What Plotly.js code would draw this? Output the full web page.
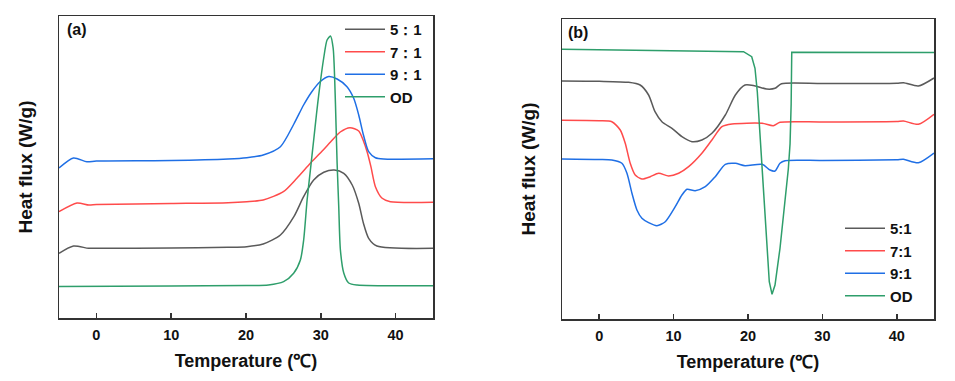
<!DOCTYPE html>
<html><head><meta charset="utf-8">
<script src="https://cdn.plot.ly/plotly-3.0.1.min.js"></script>
<style>html,body{margin:0;padding:0;background:#fff}#chart{width:955px;height:381px}</style>
</head><body><div id="chart"></div>
<script>
// Panel (a) – heating curves
const tempA51 = [-5,-3.06,-1.06,0,10,17.6,20.1,22.3,24.6,26.4,27.7,29.05,30.4,31.8,33.07,34.2,35.07,35.7,36.4,37.5,45];
const fluxA51 = [64.7,72,69.7,69.7,70,70.7,71.3,74,83,101.3,121.3,138,145.7,148,144.7,133,114.7,94.7,79.7,72,69.7];
const tempA71 = [-5,-2.6,-1.0,0,10,17.6,20.1,22.3,25.0,26.8,28.6,29.9,31.3,32.6,33.9,35.07,35.7,36.2,36.7,37.3,38.2,39.3,45];
const fluxA71 = [106.3,115,113,113.5,114.5,115.3,116.3,118,126.3,139.7,154.7,164.7,176,186,190.3,187,177,166,151.3,131.3,119.7,116.3,115.7];
const tempA91 = [-5,-3.06,-1.28,0,10,17.6,20.1,22.3,24.6,26.4,27.7,28.8,29.9,31.06,32.18,33.5,34.4,35.07,35.7,36.4,37.3,38.4,45];
const fluxA91 = [150,160,156.3,157,157.5,159,160.3,163,171.3,194,213,226.3,236.3,241.5,239,231.3,219.7,203,183,166.3,160.3,159,159.3];
const tempAOD = [-5,10,20,23,25.03,26.37,27.27,27.71,28.17,28.61,29.05,29.41,29.72,30.39,30.84,31.29,31.65,31.86,32.05,32.18,32.40,32.62,33.07,33.73,34.86,45];
const fluxAOD = [31.5,32,32.5,33,36.3,44.7,58,78,118,148,178,203,223,260,278,282,270,238,190,155,111,68,45,35,33,32.3];

// Panel (b) – cooling curves
const tempB51 = [-5,0,3.95,5.5,6.64,7.5,8.43,9.78,11.12,12.47,13.8,15.15,16.95,18.3,19.6,20.85,22.5,23.63,24.5,30,40,40.9,42.9,45];
const fluxB51 = [238,237.7,236.7,234,224,207.3,197.3,190.7,182.3,177.3,179,185.7,204,224,234,233.3,230,230.7,235.3,235.5,235.7,236.3,233,241];
const tempB71 = [-5,0,1.7,2.83,3.5,4.17,4.84,5.74,6.86,7.99,9.33,10.68,12.02,13.8,15.15,16.5,17.85,21.9,23.4,24.3,30,40,40.9,42.9,45];
const fluxB71 = [198.7,198.3,197.3,189,175.7,155.7,144,140,142.3,145.7,143,145.7,152.3,165.7,179,192.3,195,195.7,193.3,196.7,197,197.5,198,194.7,204.7];
const tempB91 = [-5,0,1.7,3.05,3.73,4.4,5.07,5.74,6.64,7.76,8.88,10.22,11.12,11.8,12.9,14.26,15.6,16.95,18.3,19.6,21.9,22.96,23.63,24.3,24.98,30,40,40.9,42.9,45];
const fluxB91 = [160,159.5,159,155.7,145.7,125.7,109,100.7,96.3,93.3,97.3,112.3,124,129.7,128.3,132.3,142.3,154.7,155.7,153.3,154.7,149,148,155.7,158.3,158.5,159.3,159.7,156.3,166];
const tempBOD = [-5,5,15,19.4,20.5,20.94,21.25,21.6,22.06,22.5,22.86,23.23,23.63,24.3,24.98,25.42,25.65,25.8,25.88,30,45];
const fluxBOD = [269.7,269,268,267.3,262.3,250.7,227.3,187.3,137.3,77.3,37.3,24.7,34,70.7,117.3,150,175,215,266.7,266.7,266.5];

const namesA = ['5：1','7：1','9：1','OD'];
const namesB = ['5:1','7:1','9:1','OD'];
const colors = ['#5a5a5a','#ff4b4b','#1f6fe5','#2e9e6b'];

const FONT = 'Arial, "Liberation Sans", sans-serif';
const seriesA = [[tempA51,fluxA51],[tempA71,fluxA71],[tempA91,fluxA91],[tempAOD,fluxAOD]];
const seriesB = [[tempB51,fluxB51],[tempB71,fluxB71],[tempB91,fluxB91],[tempBOD,fluxBOD]];

const traces = [];
seriesA.forEach((s,i)=>traces.push({x:s[0],y:s[1],name:namesA[i],type:'scatter',mode:'lines',
  line:{color:colors[i],width:1.5,shape:'spline',smoothing:0.7},xaxis:'x',yaxis:'y',legend:'legend'}));
seriesB.forEach((s,i)=>traces.push({x:s[0],y:s[1],name:namesB[i],type:'scatter',mode:'lines',
  line:{color:colors[i],width:1.5,shape:i===3?'linear':'spline',smoothing:0.7},xaxis:'x2',yaxis:'y2',legend:'legend2'}));

function xax(dom, anchor){
  return {domain:dom, anchor:anchor, range:[-5,45], showline:true, mirror:true, linecolor:'#333', linewidth:1.5,
    ticks:'inside', ticklen:5, tickwidth:1.5, tickcolor:'#333', tickvals:[0,10,20,30,40], ticklabelstandoff:3,
    tickfont:{family:FONT,size:14.5,weight:'bold',color:'#111'}, showgrid:false, zeroline:false,
    title:{text:'Temperature (℃)', font:{family:FONT,size:18,weight:'bold',color:'#111'}, standoff:12}};
}
function yax(dom, anchor, rng){
  return {domain:dom, anchor:anchor, range:rng, showline:true, mirror:true, linecolor:'#333', linewidth:1.5,
    ticks:'', showticklabels:false, showgrid:false, zeroline:false,
    title:{text:'Heat flux (W/g)', font:{family:FONT,size:19,weight:'bold',color:'#111'}, standoff:20}};
}
const legendBase = {xanchor:'left', yanchor:'top', bgcolor:'rgba(0,0,0,0)', borderwidth:0,
  font:{family:FONT,size:15,weight:'bold',color:'#111'}, itemwidth:40};

const layout = {
  width:955, height:381, margin:{l:0,r:0,t:0,b:0}, paper_bgcolor:'#fff', plot_bgcolor:'#fff',
  xaxis: xax([59/955,433/955],'y'),
  yaxis: yax([63/381,365/381],'x',[0,302]),
  xaxis2: xax([562/955,934/955],'y2'),
  yaxis2: yax([62/381,362/381],'x2',[0,300]),
  legend: Object.assign({x:340/955, y:(381-13)/381}, legendBase),
  legend2: Object.assign({x:840/955, y:(381-212)/381}, legendBase),
  annotations:[
    {text:'(a)', x:65/955, y:(381-29)/381, xref:'paper', yref:'paper', xanchor:'left', yanchor:'middle', showarrow:false,
     font:{family:FONT,size:16,weight:'bold',color:'#111'}},
    {text:'(b)', x:566/955, y:(381-33)/381, xref:'paper', yref:'paper', xanchor:'left', yanchor:'middle', showarrow:false,
     font:{family:FONT,size:16,weight:'bold',color:'#111'}}
  ],
  showlegend:true
};
Plotly.newPlot('chart', traces, layout, {displayModeBar:false, staticPlot:true});
</script></body></html>
